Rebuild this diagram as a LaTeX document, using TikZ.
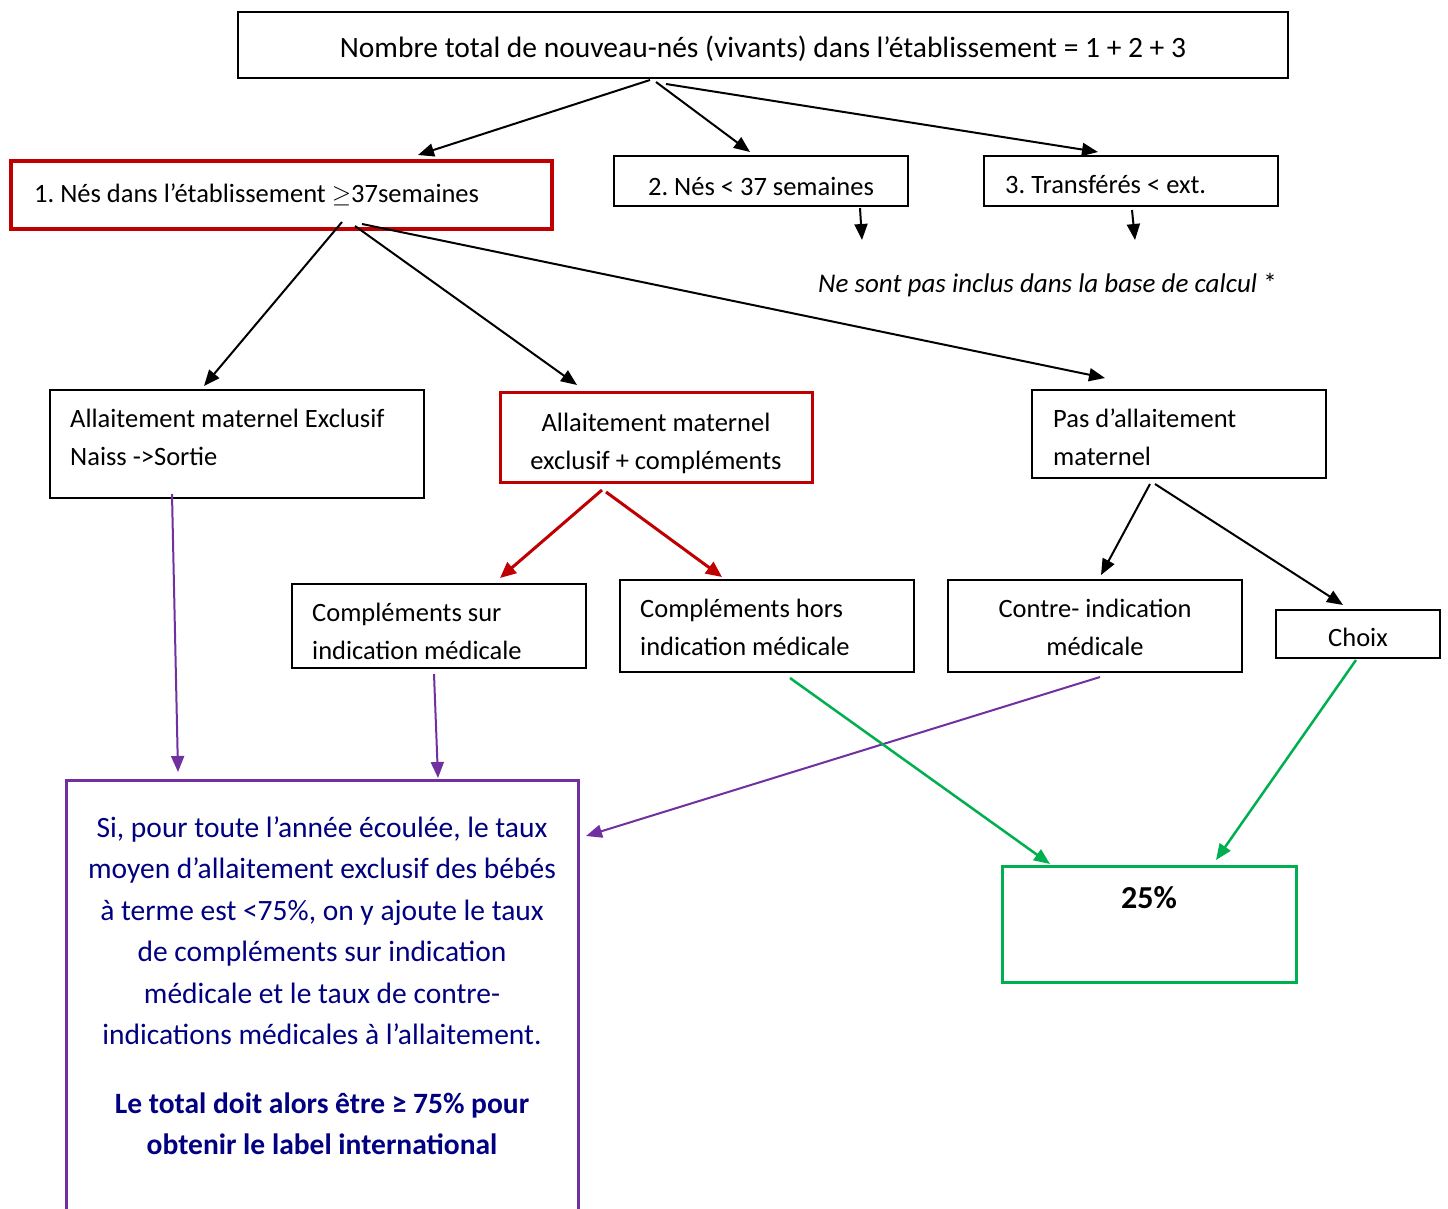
\documentclass[tikz,border=0pt]{standalone}
\usepackage{fontspec}
\setmainfont{Carlito}
\usetikzlibrary{arrows.meta}
\definecolor{myred}{RGB}{192,0,0}
\definecolor{mypurple}{RGB}{112,48,160}
\definecolor{mygreen}{RGB}{0,176,80}
\definecolor{mynavy}{RGB}{0,0,128}
\frenchspacing
\begin{document}
\begin{tikzpicture}[x=1pt,y=-1pt,
  every node/.style={font=\fontsize{26.5}{38}\selectfont},
  box/.style={draw=black, line width=2pt, anchor=north west, inner sep=0pt, outer sep=0pt},
  ltxt/.style={anchor=base west, inner sep=0pt, align=flush left, text width=#1},
  ltxt/.default=300pt,
  ctxt/.style={anchor=base, inner sep=0pt, align=flush center, text width=#1},
  ctxt/.default=300pt,
  arr/.style={line width=2pt, -{Triangle[length=16pt,width=13pt]}},
  redarr/.style={arr, draw=myred, line width=3pt, -{Triangle[length=16pt,width=14pt]}, color=myred},
  purarr/.style={arr, draw=mypurple, color=mypurple},
  grnarr/.style={arr, draw=mygreen, line width=2.5pt, color=mygreen}]
\useasboundingbox (0,0) rectangle (1448,1209);
\fill[white] (0,0) rectangle (1448,1209);

% boxes
\node[box, minimum width=1050, minimum height=66] (top) at (238,12) {};
\node[box, draw=myred, line width=4pt, minimum width=541, minimum height=68] (n1) at (11,161) {};
\node[box, minimum width=294, minimum height=50] (n2) at (614,156) {};
\node[box, minimum width=294, minimum height=50] (n3) at (984,156) {};
\node[box, minimum width=374, minimum height=108] (amx) at (50,390) {};
\node[box, draw=myred, line width=3pt, minimum width=312, minimum height=90] (amc) at (500,392) {};
\node[box, minimum width=294, minimum height=88] (pam) at (1032,390) {};
\node[box, minimum width=294, minimum height=84] (csi) at (292,584) {};
\node[box, minimum width=294, minimum height=92] (chi) at (620,580) {};
\node[box, minimum width=294, minimum height=92] (cim) at (948,580) {};
\node[box, minimum width=164, minimum height=48] (cho) at (1276,610) {};
\node[box, draw=mypurple, line width=3pt, minimum width=512, minimum height=470] (pbox) at (66,780) {};
\node[box, draw=mygreen, line width=3pt, minimum width=294, minimum height=116] (gbox) at (1002,866) {};

% texts
\node[ctxt=1040pt, font=\fontsize{29.5}{38}\selectfont] (top-t) at (763,58)
  {Nombre total de nouveau-nés (vivants) dans l’établissement = 1 + 2 + 3};
\node[ltxt=510pt] (n1-t) at (34,203) {1. Nés dans l’établissement $\geq$37semaines};
\node[ctxt=290pt] (n2-t) at (761,196) {2. Nés < 37 semaines};
\node[ltxt=270pt] (n3-t) at (1005,194) {3. Transférés < ext.};
\node[anchor=base west, inner sep=0pt, font=\fontsize{27}{30}\selectfont] (note) at (818,292)
  {\itshape Ne sont pas inclus dans la base de calcul \upshape*};
\node[ltxt=350pt] (amx-t) at (70,427.5) {Allaitement maternel Exclusif\\Naiss ->Sortie};
\node[ctxt=310pt] (amc-t) at (656,431) {Allaitement maternel\\exclusif + compléments};
\node[ltxt=270pt] (pam-t) at (1053,427.5) {Pas d’allaitement\\maternel};
\node[ltxt=270pt] (csi-t) at (312,621) {Compléments sur\\indication médicale};
\node[ltxt=270pt] (chi-t) at (640,617.5) {Compléments hors\\indication médicale};
\node[ctxt=290pt] (cim-t) at (1095,617.5) {Contre- indication\\médicale};
\node[ctxt=160pt] (cho-t) at (1358,646) {Choix};
\node[anchor=north, inner sep=0pt, align=flush center, text width=505pt, text=mynavy,
      font=\fontsize{29.5}{41.5}\selectfont] (ptext) at (322,816)
  {Si, pour toute l’année écoulée, le taux\\
   moyen d’allaitement exclusif des bébés\\
   à terme est <75\%, on y ajoute le taux\\
   de compléments sur indication\\
   médicale et le taux de contre-\\
   indications médicales à l’allaitement.\\[27pt]
   \textbf{Le total doit alors être ≥ 75\% pour}\\
   \textbf{obtenir le label international}};
\node[inner sep=0pt, font=\fontsize{32}{36}\selectfont\bfseries] (pct) at (1149,898) {25\%};

% connector end points
\coordinate (tA) at (650,80);  \coordinate (tAe) at (418,155);
\coordinate (tB) at (656,82);  \coordinate (tBe) at (750,152);
\coordinate (tC) at (666,84);  \coordinate (tCe) at (1098,152);
\coordinate (n2s) at (860,208); \coordinate (n2e) at (862,240);
\coordinate (n3s) at (1132,210); \coordinate (n3e) at (1135,240);
\coordinate (aA) at (342,222); \coordinate (aAe) at (204,386);
\coordinate (aB) at (355,226); \coordinate (aBe) at (577,385);
\coordinate (aC) at (362,224); \coordinate (aCe) at (1105,378);
\coordinate (rA) at (602,490); \coordinate (rAe) at (500,578);
\coordinate (rB) at (606,492); \coordinate (rBe) at (722,577);
\coordinate (cA) at (1150,484); \coordinate (cAe) at (1101,575);
\coordinate (cB) at (1155,484); \coordinate (cBe) at (1343,605);
\coordinate (pA) at (172,494); \coordinate (pAe) at (178,772);
\coordinate (pB) at (434,674); \coordinate (pBe) at (438,778);
\coordinate (pC) at (1100,677); \coordinate (pCe) at (586,836);
\coordinate (gA) at (790,678); \coordinate (gAe) at (1050,864);
\coordinate (gB) at (1356,660); \coordinate (gBe) at (1216,860);

\draw[arr] (tA) -- (tAe);
\draw[arr] (tB) -- (tBe);
\draw[arr] (tC) -- (tCe);
\draw[arr] (n2s) -- (n2e);
\draw[arr] (n3s) -- (n3e);
\draw[arr] (aA) -- (aAe);
\draw[arr] (aB) -- (aBe);
\draw[arr] (aC) -- (aCe);
\draw[redarr] (rA) -- (rAe);
\draw[redarr] (rB) -- (rBe);
\draw[arr] (cA) -- (cAe);
\draw[arr] (cB) -- (cBe);
\draw[purarr] (pA) -- (pAe);
\draw[purarr] (pB) -- (pBe);
\draw[purarr] (pC) -- (pCe);
\draw[grnarr] (gA) -- (gAe);
\draw[grnarr] (gB) -- (gBe);
\end{tikzpicture}
\end{document}
